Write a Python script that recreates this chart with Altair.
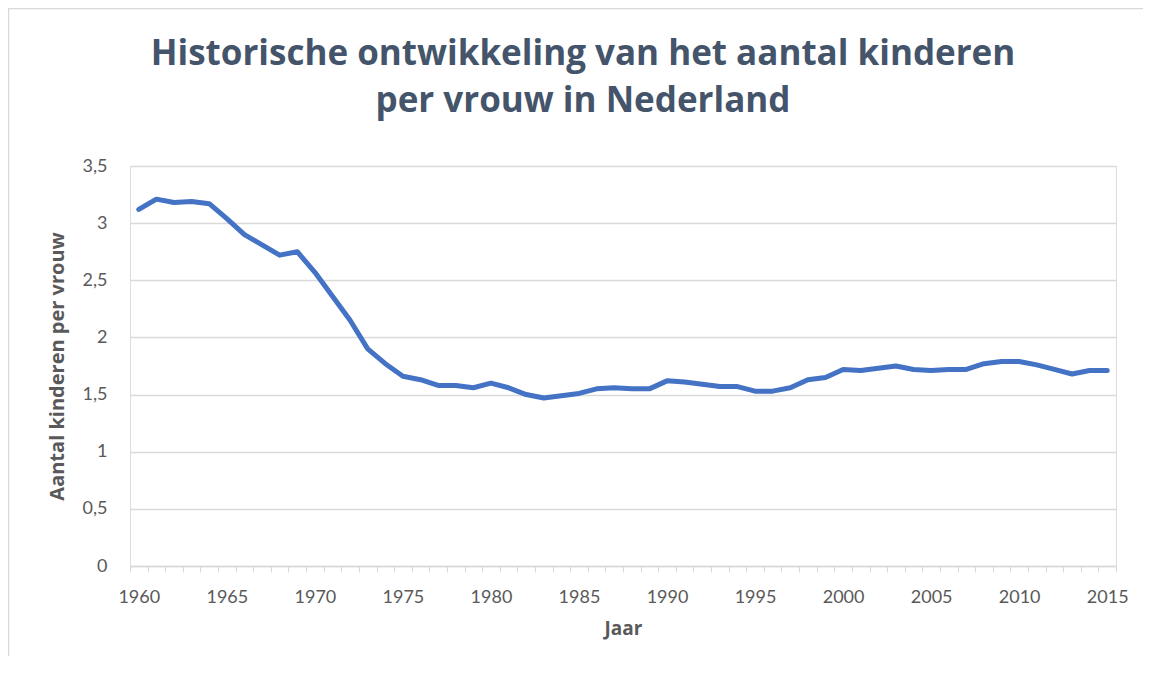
import altair as alt
import pandas as pd

years = list(range(1960, 2016))
kinderen = [3.12, 3.21, 3.18, 3.19, 3.17, 3.04, 2.90, 2.81, 2.72, 2.75,
            2.57, 2.36, 2.15, 1.90, 1.77, 1.66, 1.63, 1.58, 1.58, 1.56,
            1.60, 1.56, 1.50, 1.47, 1.49, 1.51, 1.55, 1.56, 1.55, 1.55,
            1.62, 1.61, 1.59, 1.57, 1.57, 1.53, 1.53, 1.56, 1.63, 1.65,
            1.72, 1.71, 1.73, 1.75, 1.72, 1.71, 1.72, 1.72, 1.77, 1.79,
            1.79, 1.76, 1.72, 1.68, 1.71, 1.71]
label_years = list(range(1960, 2016, 5))
y_ticks = [0, 0.5, 1, 1.5, 2, 2.5, 3, 3.5]

title_lines = ["Historische ontwikkeling van het aantal kinderen", "per vrouw in Nederland"]

df = pd.DataFrame({"Jaar": years, "Kinderen": kinderen})

boundaries = [y - 0.5 for y in years] + [years[-1] + 0.5]
x_values = boundaries + label_years

FONT = "Lato"
TFONT = "Open Sans"
GRAY = "#D9D9D9"
TXT = "#595959"

x_enc = alt.X(
    "Jaar:Q",
    scale=alt.Scale(domain=[years[0] - 0.5, years[-1] + 0.5], nice=False, zero=False),
    axis=alt.Axis(
        title="Jaar",
        values=x_values,
        grid=False,
        domainColor=GRAY,
        domainWidth=1.5,
        tickColor=GRAY,
        tickWidth=1,
        tickSize=6,
        tickOpacity={"condition": {"test": "datum.value % 1 != 0", "value": 1}, "value": 0},
        labelExpr="datum.value % 5 == 0 ? toString(datum.value) : ''",
        labelOverlap=False,
        labelFlush=False,
        labelBound=False,
        labelPadding=16,
        labelFont=FONT,
        labelFontSize=18,
        labelColor=TXT,
        titleFont=TFONT,
        titleFontSize=19,
        titleFontWeight="bold",
        titleColor=TXT,
        titlePadding=13,
    ),
)

y_enc = alt.Y(
    "Kinderen:Q",
    scale=alt.Scale(domain=[0, 3.5], nice=False),
    axis=alt.Axis(
        title="Aantal kinderen per vrouw",
        values=y_ticks,
        grid=True,
        gridColor=GRAY,
        gridWidth=1.3,
        domain=False,
        ticks=False,
        labelPadding=23,
        labelExpr="replace(toString(datum.value), '.', ',')",
        labelFont=FONT,
        labelFontSize=18,
        labelColor=TXT,
        titleFont=TFONT,
        titleFontSize=20,
        titleFontWeight="bold",
        titleColor=TXT,
        titleX=-73,
        titleY=200,
        titleAngle=-90,
        titleAlign="center",
        titleBaseline="middle",
    ),
)

line = alt.Chart(df).mark_line(
    color="#4472C4", strokeWidth=5, strokeCap="round", strokeJoin="round"
).encode(x=x_enc, y=y_enc)

border = alt.Chart(pd.DataFrame({"a": [0]})).mark_rect(
    fill=None, stroke=GRAY, strokeWidth=1.5
).encode(
    x=alt.value(-121.5), y=alt.value(-157.5), x2=alt.value(1300), y2=alt.value(900)
)

chart = alt.layer(border, line).properties(
    width=986,
    height=400,
    autosize=alt.AutoSizeParams(type="none"),
    padding={"left": 122, "top": 158, "right": 27, "bottom": 90},
    title=alt.TitleParams(
        text=title_lines,
        font=TFONT,
        fontSize=35,
        fontWeight="bold",
        color="#44546A",
        anchor="middle",
        baseline="alphabetic",
        lineHeight=47,
        dx=-40,
        dy=139,
        offset=0,
    ),
).configure_view(stroke=None).configure(background="white")

chart.save("out.html", embed_options={"renderer": "svg", "actions": False})
